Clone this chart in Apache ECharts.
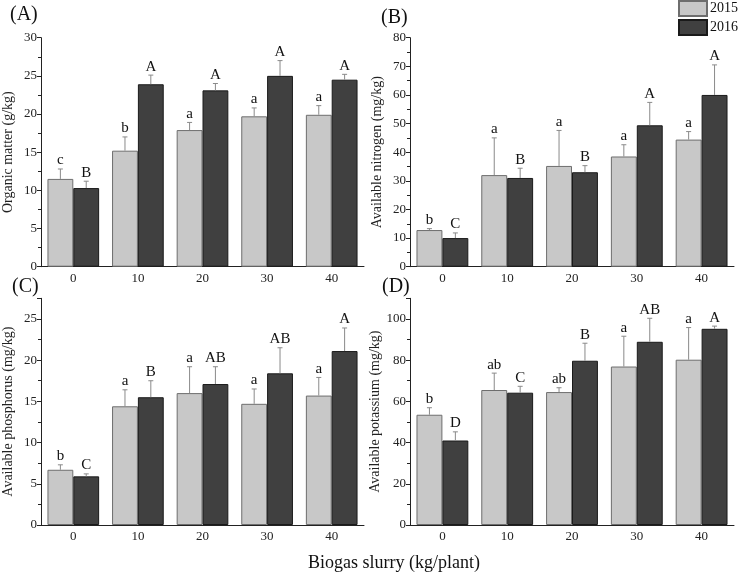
<!DOCTYPE html>
<html><head><meta charset="utf-8">
<script src="https://cdn.jsdelivr.net/npm/echarts@6/dist/echarts.min.js"></script>
<style>html,body{margin:0;padding:0;background:#fff}#c{width:740px;height:574px}</style>
</head><body><div id="c"></div>
<script>
const categories = ['0','10','20','30','40'];
const years = ['2015','2016'];

// (A) Organic matter
const omMean2015 = [11.5, 15.2, 17.9, 19.7, 19.9];
const omErr2015  = [12.8, 17.0, 18.9, 20.8, 21.1];
const omLet2015  = ['c','b','a','a','a'];
const omMean2016 = [10.3, 23.9, 23.1, 25.0, 24.5];
const omErr2016  = [11.2, 25.1, 24.0, 27.0, 25.2];
const omLet2016  = ['B','A','A','A','A'];

// (B) Available nitrogen
const anMean2015 = [12.8, 32.0, 35.2, 38.5, 44.4];
const anErr2015  = [13.3, 45.0, 47.6, 42.6, 47.2];
const anLet2015  = ['b','a','a','a','a'];
const anMean2016 = [10.0, 31.0, 33.0, 49.4, 60.0];
const anErr2016  = [11.8, 34.4, 35.3, 57.4, 70.5];
const anLet2016  = ['C','B','B','A','A'];

// (C) Available phosphorus
const apMean2015 = [6.7, 14.4, 16.0, 14.7, 15.7];
const apErr2015  = [7.3, 16.4, 19.2, 16.5, 17.9];
const apLet2015  = ['b','a','a','a','a'];
const apMean2016 = [5.9, 15.5, 17.1, 18.4, 21.1];
const apErr2016  = [6.2, 17.5, 19.2, 21.5, 23.9];
const apLet2016  = ['C','B','AB','AB','A'];

// (D) Available potassium
const akMean2015 = [53.5, 65.5, 64.5, 76.9, 80.2];
const akErr2015  = [56.9, 73.7, 66.6, 91.6, 95.8];
const akLet2015  = ['b','ab','ab','a','a'];
const akMean2016 = [41.0, 64.2, 79.7, 88.9, 95.2];
const akErr2016  = [45.2, 67.3, 88.2, 100.3, 96.5];
const akLet2016  = ['D','C','B','AB','A'];

const panelTitles = ['(A)','(B)','(C)','(D)'];
const yNames = ['Organic matter (g/kg)','Available nitrogen (mg/kg)','Available phosphorus (mg/kg)','Available potassium (mg/kg)'];
const xName = 'Biogas slurry (kg/plant)';

const panels = [
  {m15: omMean2015, e15: omErr2015, l15: omLet2015, m16: omMean2016, e16: omErr2016, l16: omLet2016, max: 30, interval: 5},
  {m15: anMean2015, e15: anErr2015, l15: anLet2015, m16: anMean2016, e16: anErr2016, l16: anLet2016, max: 80, interval: 10},
  {m15: apMean2015, e15: apErr2015, l15: apLet2015, m16: apMean2016, e16: apErr2016, l16: apLet2016, max: 27.5, interval: 5},
  {m15: akMean2015, e15: akErr2015, l15: akLet2015, m16: akMean2016, e16: akErr2016, l16: akLet2016, max: 110, interval: 20}
];

const FONT = 'Liberation Serif, Times New Roman, serif';
const grids = [
  {left: 40, top: 37.7, width: 324, height: 229},
  {left: 410, top: 37.7, width: 324, height: 229},
  {left: 40, top: 298.3, width: 324, height: 226.7},
  {left: 410, top: 298.3, width: 324, height: 226.7}
];

function errRender(sign, letters) {
  return function (params, api) {
    const cat = api.value(0), v = api.value(1), e = api.value(2);
    const base = api.coord([cat, v]);
    const top = api.coord([cat, e]);
    const band = api.size([1, 0])[0];
    const x = base[0] + sign * band * 0.2;
    const cap = 2.5;
    return {type: 'group', children: [
      {type: 'line', shape: {x1: x, y1: base[1], x2: x, y2: top[1]}, style: {stroke: '#8a8a8a', lineWidth: 1}},
      {type: 'line', shape: {x1: x - cap, y1: top[1], x2: x + cap, y2: top[1]}, style: {stroke: '#8a8a8a', lineWidth: 1}},
      {type: 'text', x: x, y: top[1] - 1, style: {text: letters[params.dataIndex], textAlign: 'center', textVerticalAlign: 'bottom', font: '15px ' + FONT, fill: '#111'}}
    ]};
  };
}

const xAxes = [], yAxes = [], series = [];
panels.forEach((p, i) => {
  xAxes.push({
    type: 'category', gridIndex: i, data: categories,
    axisLine: {lineStyle: {color: '#222', width: 1}},
    axisTick: {alignWithLabel: true, length: 4, lineStyle: {color: '#222'}},
    axisLabel: {color: '#222', fontSize: 13, fontFamily: FONT, margin: 5}
  });
  yAxes.push({
    type: 'value', gridIndex: i, min: 0, max: p.max, interval: p.interval,
    name: yNames[i], nameLocation: 'middle', nameGap: 26,
    nameTextStyle: {fontSize: 14, fontFamily: FONT, color: '#222'},
    axisLine: {show: true, lineStyle: {color: '#222', width: 1}},
    axisTick: {show: true, length: 4, lineStyle: {color: '#222'}},
    minorTick: {show: true, splitNumber: 2, length: 3, lineStyle: {color: '#222'}},
    splitLine: {show: false},
    axisLabel: {color: '#222', fontSize: 13, fontFamily: FONT, margin: 4, showMaxLabel: p.max % p.interval === 0}
  });
  series.push({
    name: '2015', type: 'bar', xAxisIndex: i, yAxisIndex: i, data: p.m15,
    barGap: '0%', barCategoryGap: '20%',
    itemStyle: {color: '#c8c8c8', borderColor: '#6e6e6e', borderWidth: 1}
  });
  series.push({
    name: '2016', type: 'bar', xAxisIndex: i, yAxisIndex: i, data: p.m16,
    barGap: '0%', barCategoryGap: '20%',
    itemStyle: {color: '#404040', borderColor: '#1a1a1a', borderWidth: 1}
  });
  series.push({
    name: 'err15_' + i, type: 'custom', xAxisIndex: i, yAxisIndex: i, z: 5,
    data: p.m15.map((v, k) => [k, v, p.e15[k]]),
    renderItem: errRender(-1, p.l15), silent: true
  });
  series.push({
    name: 'err16_' + i, type: 'custom', xAxisIndex: i, yAxisIndex: i, z: 5,
    data: p.m16.map((v, k) => [k, v, p.e16[k]]),
    renderItem: errRender(1, p.l16), silent: true
  });
});

const titlePos = [[10, 5], [381, 8], [12, 277], [382, 277]];
const titles = panelTitles.map((t, i) => ({
  text: t, left: titlePos[i][0], top: titlePos[i][1], padding: 0,
  textStyle: {fontSize: 20, fontWeight: 'normal', fontFamily: FONT, color: '#111'}
}));
titles.push({
  text: xName, left: 308, top: 554, padding: 0,
  textStyle: {fontSize: 18, fontWeight: 'normal', fontFamily: FONT, color: '#111'}
});

const chart = echarts.init(document.getElementById('c'), null, {renderer: 'canvas'});
chart.setOption({
  animation: false,
  backgroundColor: '#fff',
  title: titles,
  legend: {
    data: years, orient: 'vertical', left: 678, top: 0, padding: 0,
    itemWidth: 28, itemHeight: 15, itemGap: 2, icon: 'rect',
    textStyle: {fontSize: 14, fontFamily: FONT, color: '#111', padding: [0, 0, 0, -2]}
  },
  grid: grids,
  xAxis: xAxes,
  yAxis: yAxes,
  series: series
});
</script>
</body></html>
